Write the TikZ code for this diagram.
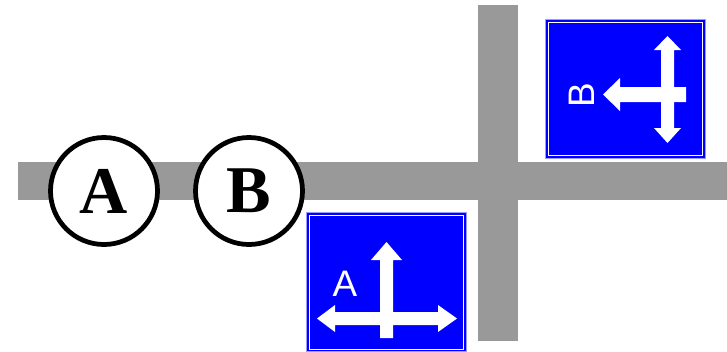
\documentclass[tikz,border=0pt]{standalone}
\usepackage{fontspec}
\usepackage{tikz}
\usetikzlibrary{positioning}
\newfontfamily\signfont{Liberation Sans}
\newfontfamily\markfont{Liberation Serif}
\definecolor{roadGray}{HTML}{999999}
\definecolor{signBlue}{HTML}{0000FF}
\definecolor{signEdge}{HTML}{9999FF}

\begin{document}
\begin{tikzpicture}[x=0.2mm, y=-0.2mm,
    car/.style={circle, draw=black, line width=2.7pt, fill=white, minimum size=21.4mm, inner sep=0pt,
        font=\markfont\bfseries\fontsize{38}{38}\selectfont},
    signboard/.style={draw=signEdge, fill=signBlue, line width=0.4pt, minimum width=32mm,
        minimum height=27.8mm, inner sep=0pt},
    signletter/.style={white, font=\signfont\fontsize{21}{21}\selectfont, inner sep=0pt}]
    \useasboundingbox (0,0) rectangle (727,351);
    % roads
    \fill[roadGray] (18,162) rectangle (727,200);
    \fill[roadGray] (478,5) rectangle (518,341);
    % car positions
    \node[car] (carA) at (104,191) {A};
    \node[car] (carB) at (249,191) {B};
    % sign for A
    \node[signboard] (signA) at (386,281.5) {};
    \draw[white, line width=0.5pt] (309,215) rectangle (463,349);
    \fill[white] (380,338) -- (380,260) -- (371,260) -- (386.5,242) -- (402,260) -- (393,260) -- (393,338) -- cycle;
    \fill[white] (317,318.5) -- (335,305) -- (335,312) -- (438,312) -- (438,305) -- (457,318.5)
        -- (438,332) -- (438,325) -- (335,325) -- (335,332) -- cycle;
    \node[signletter] (labelA) at (345,284) {A};
    % sign for B
    \node[signboard] (signB) at (625,88.5) {};
    \draw[white, line width=0.5pt] (548,22) rectangle (702,155);
    \fill[white] (667.5,36) -- (681,50) -- (674,50) -- (674,128) -- (681,128) -- (667.5,143)
        -- (654,128) -- (661,128) -- (661,50) -- (654,50) -- cycle;
    \fill[white] (603,94.5) -- (620,78) -- (620,87) -- (686,87) -- (686,102) -- (620,102) -- (620,111) -- cycle;
    \node[signletter, rotate=90] (labelB) at (582,95) {B};
\end{tikzpicture}
\end{document}
